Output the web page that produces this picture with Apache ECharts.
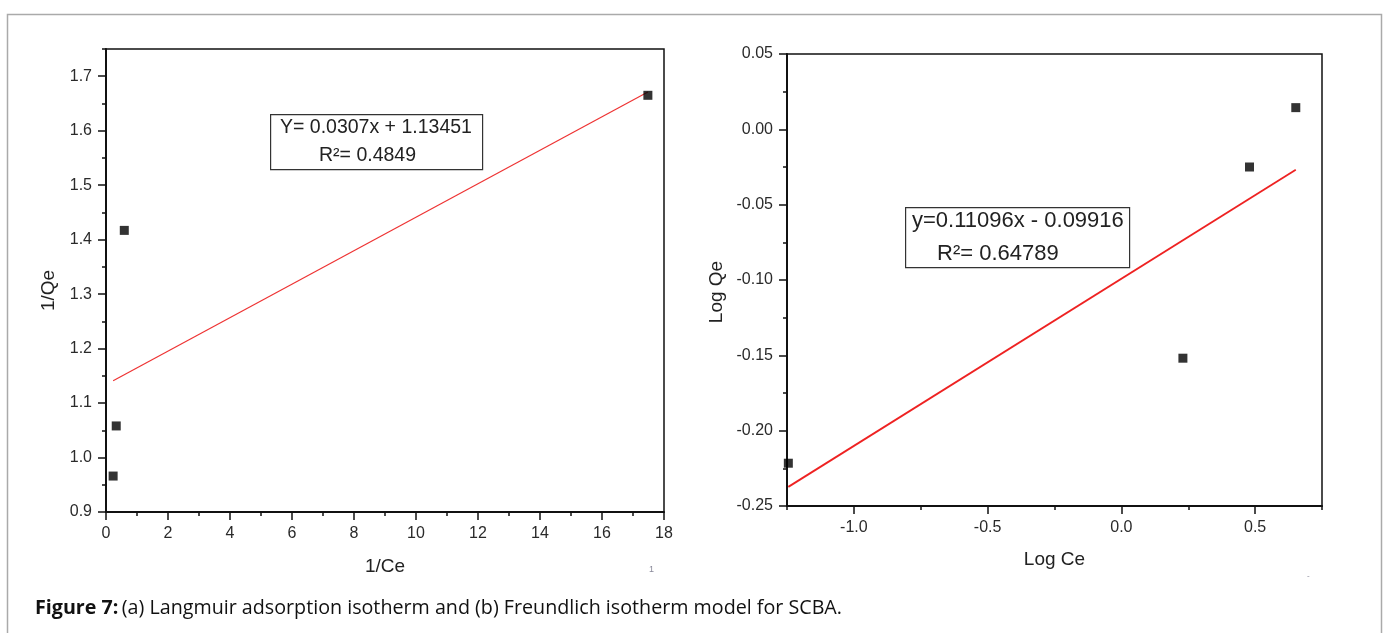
<!DOCTYPE html>
<html>
<head>
<meta charset="utf-8">
<script src="https://cdn.jsdelivr.net/npm/echarts@6/dist/echarts.min.js"></script>
<style>
  html, body { margin: 0; padding: 0; background: #fff; }
  #main { width: 1386px; height: 633px; }
</style>
</head>
<body>
<div id="main"></div>
<script>
// (a) Langmuir: 1/Ce vs 1/Qe
const langX = [0.23, 0.33, 0.59, 17.48]
const langY = [0.966, 1.058, 1.417, 1.665]
const langFitX = [0.23, 17.48]
const langFitY = [1.141, 1.671]
// (b) Freundlich: Log Ce vs Log Qe
const freX = [-1.245, 0.23, 0.479, 0.652]
const freY = [-0.2216, -0.1519, -0.025, 0.0144]
const freFitX = [-1.245, 0.652]
const freFitY = [-0.2373, -0.0268]

// tick labels
const langXTicks = [0, 2, 4, 6, 8, 10, 12, 14, 16, 18]
const langXMinor = [1, 3, 5, 7, 9, 11, 13, 15, 17]
const langYTicks = [0.9, 1.0, 1.1, 1.2, 1.3, 1.4, 1.5, 1.6, 1.7]
const langYMinor = [0.95, 1.05, 1.15, 1.25, 1.35, 1.45, 1.55, 1.65, 1.75]
const freXTicks = [-1.0, -0.5, 0.0, 0.5]
const freXMinor = [-1.25, -0.75, -0.25, 0.25, 0.75]
const freYTicks = [-0.25, -0.20, -0.15, -0.10, -0.05, 0.00, 0.05]
const freYMinor = [-0.225, -0.175, -0.125, -0.075, -0.025, 0.025]

const FONT = 'Arial, "Liberation Sans", sans-serif'
const pairs = (xs, ys) => xs.map((x, i) => [x, ys[i]])

function majorAxis(gridIndex, min, max, ticks, digits, extra) {
  return Object.assign({
    type: 'value', gridIndex, min, max,
    axisLine: { show: true, onZero: false, lineStyle: { color: '#111', width: 2 } },
    axisTick: { show: true, customValues: ticks, length: 8, lineStyle: { color: '#111', width: 1.5 } },
    axisLabel: {
      customValues: ticks, margin: 14, color: '#2a2a2a', fontSize: 16, fontFamily: FONT,
      formatter: v => Number(v).toFixed(digits)
    },
    splitLine: { show: false },
    nameTextStyle: { color: '#222', fontSize: 19, fontFamily: FONT }
  }, extra)
}

function minorAxis(gridIndex, min, max, ticks, position) {
  return {
    type: 'value', gridIndex, min, max, position,
    axisLine: { show: false, onZero: false },
    axisTick: { show: true, customValues: ticks, length: 4, lineStyle: { color: '#111', width: 1.5 } },
    axisLabel: { show: false },
    splitLine: { show: false }
  }
}

let myChart = echarts.init(document.getElementById('main'), null, { renderer: 'canvas' })

myChart.setOption({
  backgroundColor: '#fff',
  animation: false,
  grid: [
    { left: 106, top: 49, width: 558, height: 463, show: true, borderColor: '#111', borderWidth: 1.5 },
    { left: 787, top: 54, width: 535, height: 452, show: true, borderColor: '#111', borderWidth: 1.5 }
  ],
  xAxis: [
    majorAxis(0, 0, 18, langXTicks, 0, { name: '1/Ce', nameLocation: 'middle', nameGap: 45 }),
    minorAxis(0, 0, 18, langXMinor, 'bottom'),
    majorAxis(1, -1.25, 0.75, freXTicks, 1, { name: 'Log Ce', nameLocation: 'middle', nameGap: 44 }),
    minorAxis(1, -1.25, 0.75, freXMinor, 'bottom')
  ],
  yAxis: [
    majorAxis(0, 0.9, 1.75, langYTicks, 1, {
      name: '1/Qe', nameLocation: 'middle', nameGap: 48,
      nameTextStyle: { color: '#222', fontSize: 19, fontFamily: FONT, padding: [0, 20, 0, 0] }
    }),
    minorAxis(0, 0.9, 1.75, langYMinor, 'left'),
    majorAxis(1, -0.25, 0.05, freYTicks, 2, {
      name: 'Log Qe', nameLocation: 'middle', nameGap: 61,
      nameTextStyle: { color: '#222', fontSize: 19, fontFamily: FONT, padding: [0, 24, 0, 0] }
    }),
    minorAxis(1, -0.25, 0.05, freYMinor, 'left')
  ],
  series: [
    {
      type: 'line', xAxisIndex: 0, yAxisIndex: 0, data: pairs(langFitX, langFitY),
      showSymbol: false, lineStyle: { color: '#ee3333', width: 1.2 }, z: 2
    },
    {
      type: 'scatter', xAxisIndex: 0, yAxisIndex: 0, data: pairs(langX, langY),
      symbol: 'rect', symbolSize: 9, itemStyle: { color: '#000' }, z: 3
    },
    {
      type: 'line', xAxisIndex: 2, yAxisIndex: 2, data: pairs(freFitX, freFitY),
      showSymbol: false, lineStyle: { color: '#ee2222', width: 1.8 }, z: 2
    },
    {
      type: 'scatter', xAxisIndex: 2, yAxisIndex: 2, data: pairs(freX, freY),
      symbol: 'rect', symbolSize: 9, itemStyle: { color: '#000' }, z: 3
    }
  ],
  graphic: [
    // outer frame
    { type: 'rect', left: 5, top: 12, shape: { width: 1374, height: 640 }, silent: true,
      style: { fill: null, stroke: '#aaa', lineWidth: 1.5 }, z: -1 },
    // equation boxes
    { type: 'rect', left: 270, top: 114, shape: { width: 212, height: 55 },
      style: { fill: '#fff', stroke: '#333', lineWidth: 1.2 }, z: 10 },
    { type: 'text', left: 280, top: 118, z: 11,
      style: { text: 'Y= 0.0307x + 1.13451', fill: '#222', font: '19.5px ' + FONT } },
    { type: 'text', left: 319, top: 146, z: 11,
      style: { text: 'R²= 0.4849', fill: '#222', font: '19.5px ' + FONT } },
    { type: 'rect', left: 905, top: 207, shape: { width: 224, height: 60 },
      style: { fill: '#fff', stroke: '#333', lineWidth: 1.2 }, z: 10 },
    { type: 'text', left: 912, top: 210, z: 11,
      style: { text: 'y=0.11096x - 0.09916', fill: '#222', font: '22px ' + FONT } },
    { type: 'text', left: 937, top: 243, z: 11,
      style: { text: 'R²= 0.64789', fill: '#222', font: '22px ' + FONT } },
    // stray marks
    { type: 'text', left: 649, top: 565, style: { text: '1', fill: '#889', font: '9px ' + FONT } },
    { type: 'text', left: 1307, top: 572, style: { text: '-', fill: '#889', font: '8px ' + FONT } },
    // caption
    { type: 'text', left: 35, top: 598,
      style: {
        text: '{b|Figure 7:} {r|(a) Langmuir adsorption isotherm and (b) Freundlich isotherm model for SCBA.}',
        rich: {
          b: { fontFamily: '"Open Sans", sans-serif', fontWeight: 'bold', fontSize: 19.7, fill: '#111' },
          r: { fontFamily: '"Open Sans", sans-serif', fontSize: 19.7, fill: '#111' }
        }
      }
    }
  ]
})
</script>
</body>
</html>
